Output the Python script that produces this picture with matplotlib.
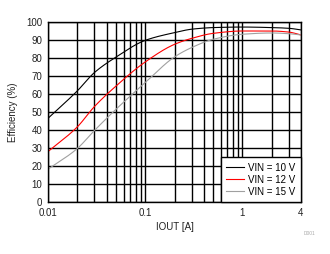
import numpy as np
import matplotlib
matplotlib.use("Agg")
import matplotlib.pyplot as plt
from matplotlib.ticker import FixedLocator, FixedFormatter, NullFormatter

plt.rcParams['font.family'] = ['Liberation Sans', 'DejaVu Sans']

# efficiency curves
iout = [0.01, 0.02, 0.03, 0.05, 0.1, 0.2, 0.3, 0.5, 1.0, 2.0, 3.0, 4.0]
eff_10 = [46.5, 61.7, 71.9, 80.5, 89.8, 94.1, 96.0, 96.9, 97.2, 96.9, 96.5, 95.6]
eff_12 = [28.0, 41.7, 53.0, 64.4, 77.8, 87.6, 90.9, 93.7, 95.0, 95.0, 94.4, 92.8]
eff_15 = [18.2, 29.7, 39.7, 51.5, 66.3, 80.6, 85.8, 90.4, 93.2, 93.9, 93.5, 92.8]

labels = ['VIN = 10 V', 'VIN = 12 V', 'VIN = 15 V']
colors = ['black', 'red', '#a0a0a0']


def pchip(x, y, xs):
    # monotone cubic through the read points (Fritsch-Carlson)
    x = np.asarray(x, float)
    y = np.asarray(y, float)
    h = np.diff(x)
    d = np.diff(y) / h
    m = np.zeros_like(y)
    m[0], m[-1] = d[0], d[-1]
    for k in range(1, len(x) - 1):
        if d[k - 1] * d[k] > 0:
            w1 = 2 * h[k] + h[k - 1]
            w2 = h[k] + 2 * h[k - 1]
            m[k] = (w1 + w2) / (w1 / d[k - 1] + w2 / d[k])
    idx = np.clip(np.searchsorted(x, xs) - 1, 0, len(x) - 2)
    t = (xs - x[idx]) / h[idx]
    h00 = 2 * t**3 - 3 * t**2 + 1
    h10 = t**3 - 2 * t**2 + t
    h01 = -2 * t**3 + 3 * t**2
    h11 = t**3 - t**2
    return h00 * y[idx] + h10 * h[idx] * m[idx] + h01 * y[idx + 1] + h11 * h[idx] * m[idx + 1]


fig = plt.figure(figsize=(3.3, 2.54), dpi=100)
ax = fig.add_axes([48 / 330, 52 / 254, 253 / 330, 180 / 254])

lx = np.log10(iout)
xs = np.linspace(lx[0], lx[-1], 400)
for ys, lab, c in zip([eff_10, eff_12, eff_15], labels, colors):
    ax.plot(10 ** xs, pchip(lx, ys, xs), color=c, lw=0.8, label=lab)

ax.set_xscale('log')
ax.set_xlim(0.01, 4)
ax.set_ylim(0, 100)
ax.set_yticks(np.arange(0, 101, 10))
ax.xaxis.set_major_locator(FixedLocator([0.01, 0.1, 1, 4]))
ax.xaxis.set_major_formatter(FixedFormatter(['0.01', '0.1', '1', '4']))
minor = [m * d for d in [0.01, 0.1, 1] for m in range(2, 10) if m * d < 4]
ax.xaxis.set_minor_locator(FixedLocator(minor))
ax.xaxis.set_minor_formatter(NullFormatter())
ax.grid(True, which='both', color='black', lw=1.0)
ax.tick_params(which='both', length=0, labelsize=7, colors='#222222', pad=4)
for s in ax.spines.values():
    s.set_linewidth(1.0)

ax.set_xlabel('IOUT [A]', fontsize=7, color='#222222', labelpad=3)
ax.set_ylabel('Efficiency (%)', fontsize=7, color='#222222', labelpad=6)

leg = ax.legend(loc='lower right', fontsize=7, frameon=True, fancybox=False,
                borderaxespad=0, handlelength=1.8, labelspacing=0.2,
                borderpad=0.55, handletextpad=0.5)
leg.get_frame().set_edgecolor('black')
leg.get_frame().set_linewidth(1.0)
leg.get_frame().set_alpha(1)

fig.text(0.955, 0.075, 'D001', fontsize=3.5, color='#aaaaaa', ha='right')

fig.savefig('out.png', dpi=100)
